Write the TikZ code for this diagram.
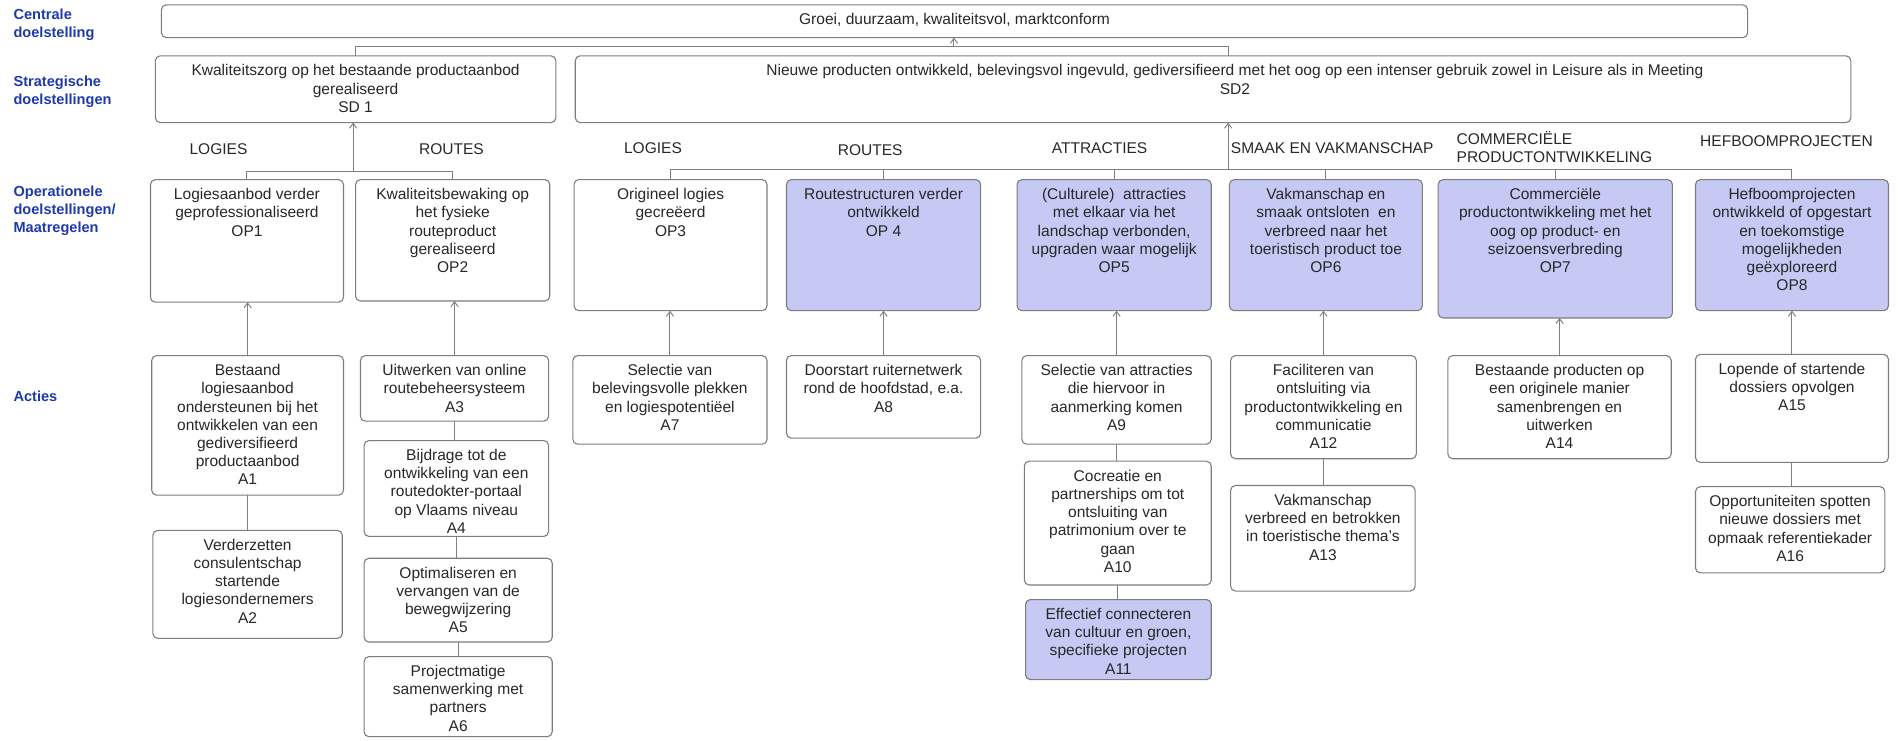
\documentclass[tikz,border=0pt]{standalone}
\usepackage{fontspec}
\setmainfont{Liberation Sans}
\usetikzlibrary{arrows.meta,calc}
\definecolor{bxfill}{RGB}{197,201,243}
\definecolor{bxdraw}{RGB}{125,125,125}
\definecolor{lblblue}{RGB}{30,58,168}
\definecolor{txtc}{RGB}{40,40,40}
\definecolor{linec}{RGB}{128,128,128}
\tikzset{
  boxst/.style={draw=bxdraw,line width=0.9pt,rounded corners=4pt,fill=white,inner sep=0pt,outer sep=0pt,rectangle},
  bluebox/.style={fill=bxfill},
  txtst/.style={inner sep=0pt,align=center,text=txtc,font=\fontsize{12.8}{15}\selectfont},
  catst/.style={inner sep=0pt,align=left,text=txtc,font=\fontsize{12.8}{15}\selectfont},
  lblst/.style={inner sep=0pt,align=left,text=lblblue,font=\bfseries\fontsize{12}{15}\selectfont,anchor=north west},
  conn/.style={draw=linec,line width=0.8pt},
  arrc/.style={conn,-{Straight Barb[length=4pt,width=6pt]}}
}
\newcommand\mkbox[8][]{%
  \pgfmathsetmacro\bxw{#5-#3}\pgfmathsetmacro\bxh{#6-#4}%
  \node[boxst,minimum width=\bxw pt,minimum height=\bxh pt,anchor=north west,#1] (#2) at (#3,#4) {};%
  \node[txtst,anchor=north,#7] (#2t) at ([yshift=-7pt]#2.north) {#8};%
}
\begin{document}
\begin{tikzpicture}[x=1pt,y=-1pt]
\useasboundingbox (0,0) rectangle (1568,610);

% left labels
\node[lblst] (l1) at (11,7) {Centrale\\doelstelling};
\node[lblst] (l2) at (11,62) {Strategische\\doelstellingen};
\node[lblst] (l3) at (11,153) {Operationele\\doelstellingen/\\Maatregelen};
\node[lblst] (l4) at (11,322) {Acties};

% central and strategic
\mkbox{cen}{133}{4}{1440}{31}{}{Groei, duurzaam, kwaliteitsvol, marktconform}
\mkbox{sd1}{128}{46}{458}{101}{}{Kwaliteitszorg op het bestaande productaanbod\\gerealiseerd\\SD 1}
\mkbox{sd2}{474}{46}{1525}{101}{xshift=18pt}{Nieuwe producten ontwikkeld, belevingsvol ingevuld, gediversifieerd met het oog op een intenser gebruik zowel in Leisure als in Meeting\\SD2}

% operational
\mkbox{op1}{124}{148}{283}{249}{}{Logiesaanbod verder\\geprofessionaliseerd\\OP1}
\mkbox{op2}{293}{148}{453}{248}{}{Kwaliteitsbewaking op\\het fysieke\\routeproduct\\gerealiseerd\\OP2}
\mkbox{op3}{473}{148}{632}{256}{}{Origineel logies\\gecreëerd\\OP3}
\mkbox[bluebox]{op4}{648}{148}{808}{256}{}{Routestructuren verder\\ontwikkeld\\OP 4}
\mkbox[bluebox]{op5}{838}{148}{998}{256}{}{(Culturele)\ \ attracties\\met elkaar via het\\landschap verbonden,\\upgraden waar mogelijk\\OP5}
\mkbox[bluebox]{op6}{1013}{148}{1172}{256}{}{Vakmanschap en\\smaak ontsloten\ \ en\\verbreed naar het\\toeristisch product toe\\OP6}
\mkbox[bluebox]{op7}{1185}{148}{1378}{262}{}{Commerciële\\productontwikkeling met het\\oog op product- en\\seizoensverbreding\\OP7}
\mkbox[bluebox]{op8}{1397}{148}{1556}{256}{}{Hefboomprojecten\\ontwikkeld of opgestart\\en toekomstige\\mogelijkheden\\geëxploreerd\\OP8}

% actions
\mkbox{a1}{125}{293}{283}{408}{}{Bestaand\\logiesaanbod\\ondersteunen bij het\\ontwikkelen van een\\gediversifieerd\\productaanbod\\A1}
\mkbox{a2}{126}{437}{282}{526}{}{Verderzetten\\consulentschap\\startende\\logiesondernemers\\A2}
\mkbox{a3}{297}{293}{452}{347}{}{Uitwerken van online\\routebeheersysteem\\A3}
\mkbox{a4}{300}{363}{452}{442}{}{Bijdrage tot de\\ontwikkeling van een\\routedokter-portaal\\op Vlaams niveau\\A4}
\mkbox{a5}{300}{460}{455}{529}{}{Optimaliseren en\\vervangen van de\\bewegwijzering\\A5}
\mkbox{a6}{300}{541}{455}{607}{}{Projectmatige\\samenwerking met\\partners\\A6}
\mkbox{a7}{472}{293}{632}{366}{}{Selectie van\\belevingsvolle plekken\\en logiespotentiëel\\A7}
\mkbox{a8}{648}{293}{808}{361}{}{Doorstart ruiternetwerk\\rond de hoofdstad, e.a.\\A8}
\mkbox{a9}{842}{293}{998}{366}{}{Selectie van attracties\\die hiervoor in\\aanmerking komen\\A9}
\mkbox{a10}{844}{380}{998}{482}{}{Cocreatie en\\partnerships om tot\\ontsluiting van\\patrimonium over te\\gaan\\A10}
\mkbox[bluebox]{a11}{845}{494}{998}{560}{}{Effectief connecteren\\van cultuur en groen,\\specifieke projecten\\A11}
\mkbox{a12}{1014}{293}{1167}{378}{}{Faciliteren van\\ontsluiting via\\productontwikkeling en\\communicatie\\A12}
\mkbox{a13}{1014}{400}{1166}{487}{}{Vakmanschap\\verbreed en betrokken\\in toeristische thema's\\A13}
\mkbox{a14}{1193}{293}{1377}{378}{}{Bestaande producten op\\een originele manier\\samenbrengen en\\uitwerken\\A14}
\mkbox{a15}{1397}{292}{1556}{381}{}{Lopende of startende\\dossiers opvolgen\\A15}
\mkbox{a16}{1397}{401}{1553}{472}{}{Opportuniteiten spotten\\nieuwe dossiers met\\opmaak referentiekader\\A16}

% category labels
\node[catst] (c1) at (180,123) {LOGIES};
\node[catst] (c2) at (372,123) {ROUTES};
\node[catst] (c3) at (538,122) {LOGIES};
\node[catst] (c4) at (717,124) {ROUTES};
\node[catst] (c5) at (906,122) {ATTRACTIES};
\node[catst,anchor=west] (c6) at (1014,122) {SMAAK EN VAKMANSCHAP};
\node[catst,anchor=west] (c7) at (1200,121) {COMMERCIËLE\\PRODUCTONTWIKKELING};
\node[catst] (c8) at (1472,116) {HEFBOOMPROJECTEN};

% connectors: centrale
\coordinate (b0) at (786,38);
\coordinate (sd2x) at (1012,0);
\draw[conn] (sd1.north) |- (b0);
\draw[conn] (sd2x |- sd2.north) |- (b0);
\draw[arrc] (b0) -- (b0 |- cen.south);

% SD1 bus
\coordinate (b1) at (291,141);
\draw[conn] (op1.north) |- (b1);
\draw[conn] (op2.north) |- (b1);
\draw[arrc] (b1) -- (b1 |- sd1.south);

% SD2 bus
\coordinate (b2) at (1012,140);
\draw[conn] (op3.north) |- (b2);
\draw[conn] (op8.north) |- (b2);
\draw[conn] (op4.north) -- (op4.north |- b2);
\draw[conn] (op5.north) -- (op5.north |- b2);
\draw[conn] (op6.north) -- (op6.north |- b2);
\draw[conn] (op7.north) -- (op7.north |- b2);
\draw[arrc] (b2) -- (b2 |- sd2.south);

% action -> operational
\draw[arrc] (a1.north) -- (a1.north |- op1.south);
\draw[arrc] (a3.north) -- (a3.north |- op2.south);
\draw[arrc] (a7.north) -- (a7.north |- op3.south);
\draw[arrc] (a8.north) -- (a8.north |- op4.south);
\draw[arrc] (a9.north) -- (a9.north |- op5.south);
\draw[arrc] (a12.north) -- (a12.north |- op6.south);
\draw[arrc] (a14.north) -- (a14.north |- op7.south);
\draw[arrc] (a15.north) -- (a15.north |- op8.south);

% action chains
\draw[conn] (a1.south) -- (a1.south |- a2.north);
\draw[conn] (a3.south) -- (a3.south |- a4.north);
\draw[conn] (a4.south) -- (a4.south |- a5.north);
\draw[conn] (a5.south) -- (a5.south |- a6.north);
\draw[conn] (a9.south) -- (a9.south |- a10.north);
\draw[conn] (a10.south) -- (a10.south |- a11.north);
\draw[conn] (a12.south) -- (a12.south |- a13.north);
\draw[conn] (a15.south) -- (a15.south |- a16.north);
\end{tikzpicture}
\end{document}
